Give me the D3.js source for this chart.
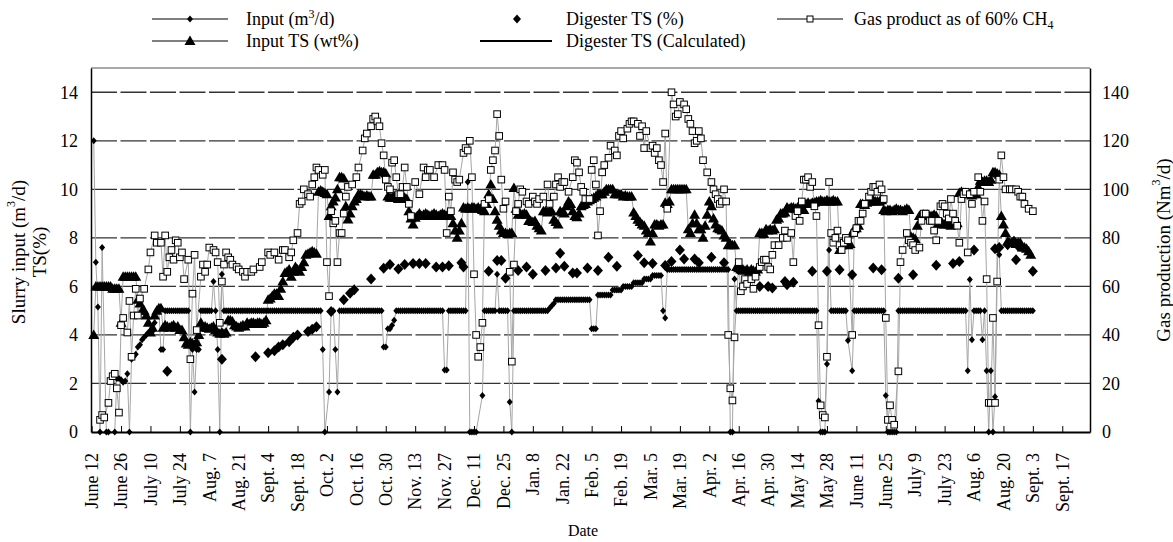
<!DOCTYPE html>
<html>
<head>
<meta charset="utf-8">
<script src="https://cdn.jsdelivr.net/npm/d3@7"></script>
<style>
  body { margin: 0; background: #fff; }
  svg { font-family: "Times New Roman", "Liberation Serif", serif; }
</style>
</head>
<body>
<svg id="chart" width="1173" height="542"></svg>
<script>
// first day of the record (June 12); every series is indexed in days after it
const startDate = new Date(2001, 5, 12);

const tickLabels = ["June 12", "June 26", "July 10", "July 24", "Aug. 7", "Aug. 21", "Sept. 4",
  "Sept. 18", "Oct. 2", "Oct. 16", "Oct. 30", "Nov. 13", "Nov. 27", "Dec. 11", "Dec. 25",
  "Jan. 8", "Jan. 22", "Feb. 5", "Feb. 19", "Mar. 5", "Mar. 19", "Apr. 2", "Apr. 16", "Apr. 30",
  "May 14", "May 28", "June 11", "June 25", "July 9", "July 23", "Aug. 6", "Aug. 20", "Sept. 3", "Sept. 17"];
const leftTicks = [0, 2, 4, 6, 8, 10, 12, 14];
const gasTicks = [0, 20, 40, 60, 80, 100, 120, 140];

// slurry input, m3/d, one value per day from day 1 (null = no reading)
const inputStartDay = 1;
const inputValues = [
  12, 7, 5.15, 0, 7.6, null, 0, 0, null, null, 0,
  2.2, 2.2, 2.15, 2.05, 2.1, 2.4, 0, 3.0, 3.1, 3.2, 3.5, 3.6, 3.8, 3.9, 4.0, 4.1, 4.1, 4.15, 4.5,
  5, 5, 3.4, 3.4,
  5, 5, 5, 5, 5, 5, 5, 5, 5, 5, 5, 5,
  0, 3.4, 1.65, 3.4, 3.4,
  5, 5, 5, 5, 5, 5,
  6.2, 5, 3.4, 0, 6.5,
  5, 5, 5, 5, 5, 5, 5, 5, 5, 5,
  5, 5, 5, 5, 5, 5, 5, 5, 5, 5,
  5, 5, 5, 5, 5, 5, 5, 5, 5, 5,
  5, 5, 5, 5, 5, 5, 5, 5, 5, 5,
  5, 5, 5, 5, 5, 5, 5,
  3.4, 0, null, 1.65, 5, 5, 3.4, 1.65,
  5, 5, 5, 5, 5, 5, 5, 5, 5, 5,
  5, 5, 5, 5, 5, 5, 5, 5, 5, 5, 5,
  3.5, 3.5, 4.25, 4.25, 4.4, 4.6,
  5, 5, 5, 5, 5, 5, 5, 5, 5, 5,
  5, 5, 5, 5, 5, 5, 5, 5, 5, 5, 5, 5, 5,
  2.55, 2.55,
  5, 5, 5, 5, 5, 5, 5, 5, 5,
  10.3, 0, 0, 0, 0, null, null, 1.5,
  5, 5, 5, 5, 5, 5,
  6.5,
  5, 5, 5, 5, 5,
  1.24, 0,
  5, 5, 5, 5, 5, 5, 5, 5, 5, 5,
  5, 5, 5, 5, 5, 5, 5,
  5.1, 5.2, 5.3,
  5.45, 5.45, 5.45, 5.45, 5.45, 5.45, 5.45, 5.45, 5.45, 5.45,
  5.45, 5.45, 5.45, 5.45, 5.45, 5.45, 5.45,
  4.25, 4.25, 4.25,
  5.65, 5.65, 5.65, 5.65, 5.65, 5.65, 5.65,
  5.85, 5.85, 5.85, 5.85, 5.85,
  6, 6, 6, 6, 6,
  6.15, 6.15, 6.15, 6.15, 6.15,
  6.3, 6.3, 6.3, 6.3,
  6.45, 6.45, 6.45, 6.45, 6.45,
  5, 4.7,
  6.7, 6.7, 6.7, 6.7, 6.7, 6.7, 6.7, 6.7, 6.7, 6.7,
  6.7, 6.7, 6.7, 6.7, 6.7, 6.7, 6.7, 6.7, 6.7, 6.7,
  6.7, 6.7, 6.7, 6.7, 6.7, 6.7, 6.7, 6.7, 6.7, 6.7,
  0, 0, 6.3,
  5, 5, 5, 5, 5, 5, 5, 5, 5, 5,
  5, 5, 5, 5, 5, 5, 5, 5, 5, 5,
  5, 5, 5, 5, 5, 5, 5, 5, 5, 5,
  5, 5, 5, 5, 5, 5, 5, 5, 5,
  1.28, 0, 0, 0, 2.8, 7.5,
  5, 5, 5, 5, 5, 5, 5, 5,
  3.77, null, 2.52,
  5, 5, 5, 5, 5, 5, 5, 5, 5, 5, 5, 5, 5, 5, 5,
  1.5, 0, 0, 0, 0, 0,
  5, 5, 5, 5, 5, 5, 5, 5, 5, 5,
  5, 5, 5, 5, 5, 5, 5, 5, 5, 5,
  5, 5, 5, 5, 5, 5, 5, 5, 5, 5, 5, 5, 5,
  2.52, 6.28, 3.8,
  5, 5, 5, 5,
  3.8, 5, 2.52, 0, 2.52, 0, 1.45, 7.5, 7.3,
  5, 5, 5, 5, 5, 5, 5, 5, 5, 5, 5, 5, 5, 5, 5, 5
];

// input TS, wt%, one value per day from day 1
const inputTsStartDay = 1;
const inputTsValues = [
  4.0,
  6, 6, 6, 6, 6, 6, 6, 6,
  5.9, 5.9, 5.9, 5.9,
  4.5,
  6.4, 6.4, 6.4, 6.4, 6.4, 6.4, 6.4,
  5.45, 5.3, 5.0, 5.0, 4.8, 4.5, 4.1, 4.3, 4.8, 5.0, 5.1, 5.1,
  4.3, 4.4, 4.35, 4.3, 4.35, 4.4, 4.3, 4.35,
  4.2, 4.2, 3.9,
  3.65, 3.6, 3.7, 3.65, 3.6, 3.7,
  4.0, 4.5,
  4.3, 4.35, 4.3, 4.25, 4.3, 4.35,
  4.2,
  4.1, 4.05, 4.1, 4.05, 4.1,
  4.6, 4.6, 4.55, 4.4,
  4.35, 4.3, 4.35, 4.4, 4.35,
  4.5, 4.45, 4.5, 4.5, 4.45, 4.5, 4.5, 4.45, 4.5, 4.6,
  5.45, 5.5, 5.6, 5.7, 5.7, 5.6, 5.9, 6.2,
  6.55, 6.6, 6.7, 6.4, 6.6, 6.8, 6.7, 6.6, 6.8, 7.0,
  7.3, 7.35, 7.4, 7.45, 7.4, 7.35,
  9.9, 9.95, 9.9, 9.85, 9.8,
  8.9, 9.3, 9.5, 9.66, 10.0,
  10.5, 10.5, 10.45,
  9.3, 8.76, 9.0, 9.3, 9.5, 9.6,
  9.8, 9.8, 9.75, 9.7, 9.75, 9.7, 9.7,
  10.6, 10.6, 10.7, 10.75, 10.7, 10.7, 10.65,
  9.7, 9.65, 9.65, 9.7, 9.65, 9.6, 9.65, 9.7, 9.65, 9.6,
  9.1, 8.8, 8.55, 8.83, 8.9, 9.0,
  8.9, 8.95, 9.0, 8.95, 8.9, 8.95, 9.0, 8.95, 8.9, 8.95, 9.0, 8.95, 8.9, 8.95, 8.9,
  8.6, 8.3, 8.0, 8.3, 8.6,
  9.25, 9.2, 9.25, 9.2, 9.25, 9.25, 9.2, 9.25, 9.2, 9.15,
  9.1, 9.4, 9.8, 10.2, 9.6, 9.1, 8.75, 8.5, 8.3, 8.2, 8.2, 8.15, 8.2, 8.2, 10.05,
  9.2, 8.95, 9.0, 8.95, 9.0, 8.95, 8.7, 8.7, 8.65, 8.7, 8.5, 8.4, 8.3,
  9.1, 9.1, 9.05, 9.1, 9.1, 8.75, 8.65, 8.55, 9.1, 9.05, 9.0, 9.3, 9.5,
  9.4, 9.1, 8.9, 8.85, 9.0, 9.3, 9.35, 9.4, 9.5, 9.55, 9.6, 9.65, 9.7,
  9.8, 9.8, 9.8, 9.9, 10.0, 10.0, 10.0, 10.0, 9.8, 9.8, 9.8, 9.8, 9.7, 9.75, 9.7, 9.7, 9.7,
  9.05, 8.9, 8.75, 8.65, 8.55, 8.5, 8.3, 8.2, 7.85, 8.2, 8.55, 8.55, 8.5, 8.55, 8.55,
  9.45, 9.4, 9.5, 10, 10, 10, 10, 10, 10, 10, 10,
  8.35, 8.2, 8.6, 8.95, 8.6, 8.35, 8.35, 8.0, 8.5, 8.95, 9.5, 9.3,
  8.8, 8.55, 8.4, 8.35, 8.3, 8.1, 8.0, 7.7, 7.75, 7.7, 7.7,
  6.8, 6.75, 6.7, 6.7, 6.65, 6.7, 6.6, 6.7, 6.65, 6.6, 6.7,
  8.2, 8.2, 8.15, 8.35, 8.3, 8.35, 8.3, 8.35,
  8.75, 8.8, 9.0, 9.0, 9.05,
  9.25, 9.2, 9.25, 9.25, 9.2, 9.25, 9.2, 9.15, 9.15,
  9.4, 9.45, 9.4, 9.45, 9.45, 9.5, 9.5, 9.55, 9.5, 9.5, 9.55, 9.5, 9.5, 9.55, 9.5, 9.5,
  7.5, 7.7, 7.75, 7.9, 7.7, 7.75, 8.2, 8.35, 8.4, 8.5,
  9.4, 9.4, 9.35, 9.45, 9.5, 9.5, 9.55, 9.5, 9.5, 9.5, 9.55,
  9.15, 9.1, 9.15, 9.15, 9.1, 9.15, 9.2, 9.15, 9.15, 9.1, 9.15, 9.2, 9.15,
  8.05, 8.0, 7.95, 8.5, 8.9, 8.9, 8.95, 8.9, 8.95, 8.9, 8.9, 8.95, 8.9,
  8.6, 8.55, 8.6, 8.55, 8.6, 8.55, 8.5, 8.6, 8.55, 8.6,
  9.85, 9.9, 9.85, 9.85, 9.8, 9.8, 9.75, 9.8, 9.8,
  10.1, 10.35, 10.3, 10.35, 10.35, 10.3, 10.4, 10.7, 10.7, 10.65, 10.6,
  8.9, 8.55, 8.2, 7.85, 7.8, 7.8, 7.8, 7.75, 7.8, 7.8, 7.6, 7.6, 7.55, 7.45, 7.3
];

// digester TS, %, sampled on these days
const digesterDays = [36, 62, 78, 84, 87, 89, 91, 94, 96, 98, 103, 105, 107, 114, 120, 123, 125, 133, 139, 142,
  146, 149, 153, 156, 159, 164, 167, 170, 176, 177, 189, 193, 195, 197, 203, 207, 210, 216, 221, 223,
  225, 229, 231, 236, 241, 246, 250, 260, 263, 267, 273, 276, 280, 282, 287, 289, 295, 301, 308, 318,
  322, 324, 330, 331, 334, 343, 350, 356, 362, 372, 376, 384, 391, 402, 410, 413, 420, 430, 432, 436,
  439, 440, 441, 448];
const digesterValues = [2.5, 3.0, 3.1, 3.27, 3.35, 3.5, 3.6, 3.72, 3.9, 4.0, 4.14, 4.23, 4.34, 4.97, 5.45, 5.72, 5.86, 6.3, 6.75, 6.9,
  6.72, 6.9, 6.94, 6.94, 6.94, 6.8, 6.8, 6.85, 6.97, 6.8, 6.62, 7.07, 7.07, 6.34, 6.66, 6.8, 6.5, 6.66, 6.76, 7.37,
  6.83, 6.55, 6.55, 6.76, 6.66, 7.2, 6.83, 7.27, 6.97, 6.94, 6.86, 7.03, 7.5, 7.13, 7.13, 6.97, 7.2, 6.97, 6.69, 6.0,
  6.0, 5.93, 6.2, 6.07, 6.17, 6.62, 6.62, 6.69, 6.48, 6.76, 6.69, 6.34, 6.48, 6.87, 6.94, 7.03, 7.5, 7.55, 7.6, 7.72,
  7.86, 7.1, 7.66, 6.62];

// gas production as 60% CH4, Nm3/d: [day, value]
const gasProduction = [[4,5],[5,7],[6,6],[8,12],[9,21],[10,23],[11,24],[12,18],[13,8],[14,44],[15,47],[17,41],[18,54],[19,31],
  [20,48],[21,59],[22,48],[23,55],[25,59],[27,67],[28,74],[30,81],[31,78],[33,78],[34,64],[35,81],[36,66],[37,72],[38,75],
  [39,71],[40,79],[41,78],[42,72],[43,74],[44,63],[46,71],[47,30],[48,57],[49,73],[50,42],[52,64],[53,69],[54,66],[55,69],
  [56,76],[58,75],[59,74],[60,70],[61,45],[62,62],[63,69],[64,74],[65,72],[66,71],[67,69],[69,68],[70,67],[72,66],[73,64],
  [74,66],[76,66],[77,67],[80,68],[81,70],[84,74],[85,73],[87,74],[89,71],[91,75],[92,75],[94,72],[95,74],[96,79],[98,82],
  [99,94],[100,95],[101,100],[103,98],[104,97],[105,102],[106,105],[107,109],[108,108],[110,106],[111,108],[112,70],[113,56],
  [114,91],[115,86],[116,87],[117,70],[118,82],[119,82],[120,90],[121,97],[122,101],[124,102],[126,105],[127,109],[129,116],
  [130,121],[131,123],[133,126],[134,129],[135,130],[136,128],[137,126],[138,119],[139,114],[140,104],[141,101],[142,100],
  [143,111],[144,112],[145,105],[146,98],[147,98],[148,101],[149,109],[150,101],[151,94],[152,89],[154,103],[156,98],[158,109],
  [159,105],[160,108],[161,108],[163,105],[165,110],[167,110],[168,108],[169,82],[170,97],[171,91],[172,107],[173,104],[174,103],
  [175,104],[177,115],[178,117],[179,116],[180,120],[181,105],[182,65],[183,40],[184,31],[185,35],[186,45],[187,94],[189,96],
  [190,108],[191,112],[192,116],[193,131],[194,122],[195,104],[196,92],[197,95],[199,66],[200,29],[201,69],[202,91],[203,94],
  [204,100],[205,99],[207,95],[208,94],[210,97],[211,95],[212,94],[213,96],[215,97],[217,102],[218,94],[220,97],[221,102],
  [222,105],[223,101],[224,103],[225,103],[227,99],[229,105],[230,112],[231,111],[232,107],[233,101],[234,99],[235,96],[237,96],
  [238,108],[239,112],[240,102],[241,81],[242,91],[243,107],[244,110],[246,113],[247,118],[249,116],[250,114],[251,122],[252,124],
  [253,121],[255,125],[256,127],[257,128],[258,128],[260,127],[261,122],[262,126],[263,117],[264,124],[266,117],[267,118],
  [268,115],[269,117],[270,112],[271,110],[272,103],[273,123],[274,92],[276,140],[277,135],[278,130],[279,131],[280,136],
  [282,135],[283,133],[284,129],[285,127],[286,124],[287,119],[288,120],[289,124],[290,121],[291,112],[293,107],[295,103],
  [296,100],[297,98],[298,96],[299,94],[300,95],[301,100],[302,95],[303,40],[304,18],[305,13],[306,39],[308,70],[309,58],
  [310,60],[311,63],[312,61],[314,63],[315,59],[316,64],[318,68],[319,70],[320,71],[321,71],[322,68],[323,67],[324,73],
  [325,77],[327,77],[329,80],[330,83],[331,80],[333,82],[334,70],[335,89],[336,91],[337,87],[338,95],[339,104],[340,104],
  [341,105],[342,101],[343,103],[344,93],[345,89],[346,44],[347,11],[348,7],[349,6],[350,31],[351,103],[352,82],[353,78],
  [354,80],[355,83],[356,77],[357,75],[358,78],[359,80],[360,79],[362,40],[363,82],[364,84],[365,87],[366,87],[367,90],
  [368,94],[370,97],[371,99],[372,101],[373,101],[374,99],[375,102],[376,100],[377,96],[378,47],[379,5],[380,11],[381,5],
  [382,3],[384,25],[385,70],[386,75],[388,82],[389,79],[390,78],[391,77],[392,75],[394,76],[395,87],[396,90],[397,90],
  [399,87],[400,87],[401,83],[402,79],[403,87],[404,93],[405,94],[406,93],[407,90],[408,88],[409,96],[410,90],[411,87],
  [412,85],[413,78],[414,96],[415,98],[416,99],[417,74],[418,98],[419,94],[420,99],[422,105],[423,99],[424,87],[425,95],
  [426,63],[427,12],[428,12],[429,47],[430,12],[431,62],[432,104],[433,114],[434,105],[435,100],[437,100],[438,100],
  [440,100],[441,99],[442,97],[443,97],[444,94],[446,92],[448,91]];

const dayToDate = n => new Date(startDate.getTime() + n * 864e5);

const plot = { left: 91, right: 1090, top: 68, bottom: 432 };
const svg = d3.select("#chart");

const x = d3.scaleTime()
  .domain([dayToDate(-0.3), dayToDate(475.2)])
  .range([plot.left, plot.right]);
const y = d3.scaleLinear().domain([0, 15]).range([plot.bottom, plot.top]);
const yGas = d3.scaleLinear().domain([0, 150]).range([plot.bottom, plot.top]);

const inputData = inputValues
  .map((v, i) => ({ date: dayToDate(inputStartDay + i), value: v }))
  .filter(d => d.value !== null);
const inputTsData = inputTsValues.map((v, i) => ({ date: dayToDate(inputTsStartDay + i), value: v }));
const digesterData = digesterDays.map((d, i) => ({ date: dayToDate(d), value: digesterValues[i] }));
const gasData = gasProduction.map(([d, v]) => ({ date: dayToDate(d), value: v }));

// gridlines
svg.append("g")
  .selectAll("line")
  .data(leftTicks.filter(v => v > 0))
  .join("line")
  .attr("x1", plot.left).attr("x2", plot.right)
  .attr("y1", d => y(d)).attr("y2", d => y(d))
  .attr("stroke", "#333").attr("stroke-width", 1.3)
  .attr("stroke-dasharray", "26,3.5");

svg.append("line")
  .attr("x1", plot.left).attr("x2", plot.right)
  .attr("y1", plot.top).attr("y2", plot.top)
  .attr("stroke", "#8c8c8c").attr("stroke-width", 1.5);

// shapes
const diamond = (w, h) => `M0,${-h}L${w},0L0,${h}L${-w},0Z`;
const triangle = "M0,-5.5L5.5,4L-5.5,4Z";

const lineGen = scale => d3.line().x(d => x(d.date)).y(d => scale(d.value));

svg.append("path").datum(gasData)
  .attr("d", lineGen(yGas)).attr("fill", "none")
  .attr("stroke", "#a6a6a6").attr("stroke-width", 1);
svg.append("path").datum(inputData)
  .attr("d", lineGen(y)).attr("fill", "none")
  .attr("stroke", "#a6a6a6").attr("stroke-width", 1);
svg.append("path").datum(inputTsData)
  .attr("d", lineGen(y)).attr("fill", "none")
  .attr("stroke", "#a6a6a6").attr("stroke-width", 1);

svg.append("g").selectAll("path")
  .data(inputTsData).join("path")
  .attr("d", triangle)
  .attr("transform", d => `translate(${x(d.date)},${y(d.value)})`)
  .attr("fill", "#000");

svg.append("g").selectAll("path")
  .data(inputData).join("path")
  .attr("d", diamond(3, 3.5))
  .attr("transform", d => `translate(${x(d.date)},${y(d.value)})`)
  .attr("fill", "#000");

svg.append("g").selectAll("path")
  .data(digesterData).join("path")
  .attr("d", diamond(5, 5.5))
  .attr("transform", d => `translate(${x(d.date)},${y(d.value)})`)
  .attr("fill", "#000");

svg.append("g").selectAll("rect")
  .data(gasData).join("rect")
  .attr("x", d => x(d.date) - 3.3).attr("y", d => yGas(d.value) - 3.3)
  .attr("width", 6.6).attr("height", 6.6)
  .attr("fill", "#fff").attr("stroke", "#000").attr("stroke-width", 1);

// axes
const tickDates = tickLabels.map((t, i) => dayToDate(i * 14));

const gx = svg.append("g")
  .attr("transform", `translate(0,${plot.bottom})`)
  .call(d3.axisBottom(x).tickValues(tickDates).tickSizeInner(-6).tickSizeOuter(0)
    .tickFormat((d, i) => tickLabels[i]));
gx.attr("font-family", null).attr("font-size", 18);
gx.select(".domain").attr("stroke-width", 2);
gx.selectAll("text")
  .attr("transform", "rotate(-90)")
  .attr("x", -21).attr("y", 0).attr("dy", "0.32em")
  .attr("text-anchor", "end")
  .attr("fill", "#000");

const gy = svg.append("g")
  .attr("transform", `translate(${plot.left},0)`)
  .call(d3.axisLeft(y).tickValues(leftTicks).tickSize(0).tickPadding(13));
gy.attr("font-family", null).attr("font-size", 18);
gy.select(".domain").attr("stroke-width", 1.5);
gy.selectAll("text").attr("fill", "#000");

const gy2 = svg.append("g")
  .attr("transform", `translate(${plot.right},0)`)
  .call(d3.axisRight(yGas).tickValues(gasTicks).tickSize(0).tickPadding(12));
gy2.attr("font-family", null).attr("font-size", 18);
gy2.select(".domain").attr("stroke-width", 1.5);
gy2.selectAll("text").attr("fill", "#000");

// axis titles
const leftTitle = svg.append("text")
  .attr("transform", "translate(18,252) rotate(-90)")
  .attr("text-anchor", "middle").attr("dominant-baseline", "central")
  .attr("font-size", 19);
leftTitle.append("tspan").text("Slurry input (m");
leftTitle.append("tspan").attr("dy", -7).attr("font-size", 12).text("3");
leftTitle.append("tspan").attr("dy", 7).text("/d)");

svg.append("text")
  .attr("transform", "translate(39,252) rotate(-90)")
  .attr("text-anchor", "middle").attr("dominant-baseline", "central")
  .attr("font-size", 19).text("TS(%)");

const rightTitle = svg.append("text")
  .attr("transform", "translate(1163,250) rotate(-90)")
  .attr("text-anchor", "middle").attr("dominant-baseline", "central")
  .attr("font-size", 19);
rightTitle.append("tspan").text("Gas production (Nm");
rightTitle.append("tspan").attr("dy", -7).attr("font-size", 12).text("3");
rightTitle.append("tspan").attr("dy", 7).text("/d)");

svg.append("text")
  .attr("x", 583).attr("y", 536)
  .attr("text-anchor", "middle").attr("font-size", 16)
  .text("Date");

// legend
const legend = svg.append("g").attr("font-size", 18);
const row1 = 19, row2 = 41;

legend.append("line").attr("x1", 152).attr("x2", 228).attr("y1", row1).attr("y2", row1)
  .attr("stroke", "#000").attr("stroke-width", 1.2);
legend.append("path").attr("d", diamond(3, 3.5)).attr("transform", `translate(190,${row1})`);
const lt1 = legend.append("text").attr("x", 246).attr("y", row1 + 6);
lt1.append("tspan").text("Input (m");
lt1.append("tspan").attr("dy", -7).attr("font-size", 12).text("3");
lt1.append("tspan").attr("dy", 7).text("/d)");

legend.append("path").attr("d", diamond(4, 4.5)).attr("transform", `translate(517,${row1})`);
legend.append("text").attr("x", 566).attr("y", row1 + 6).text("Digester TS (%)");

legend.append("line").attr("x1", 777).attr("x2", 843).attr("y1", row1).attr("y2", row1)
  .attr("stroke", "#000").attr("stroke-width", 1);
legend.append("rect").attr("x", 807).attr("y", row1 - 3).attr("width", 6).attr("height", 6)
  .attr("fill", "#fff").attr("stroke", "#000");
const lt3 = legend.append("text").attr("x", 854).attr("y", row1 + 6);
lt3.append("tspan").text("Gas product as of 60% CH");
lt3.append("tspan").attr("dy", 4).attr("font-size", 12).text("4");

legend.append("line").attr("x1", 152).attr("x2", 228).attr("y1", row2).attr("y2", row2)
  .attr("stroke", "#000").attr("stroke-width", 1.2);
legend.append("path").attr("d", triangle).attr("transform", `translate(190,${row2})`);
legend.append("text").attr("x", 246).attr("y", row2 + 6).text("Input TS (wt%)");

legend.append("line").attr("x1", 480).attr("x2", 552).attr("y1", row2).attr("y2", row2)
  .attr("stroke", "#000").attr("stroke-width", 2);
legend.append("text").attr("x", 566).attr("y", row2 + 6).text("Digester TS (Calculated)");
</script>
</body>
</html>
